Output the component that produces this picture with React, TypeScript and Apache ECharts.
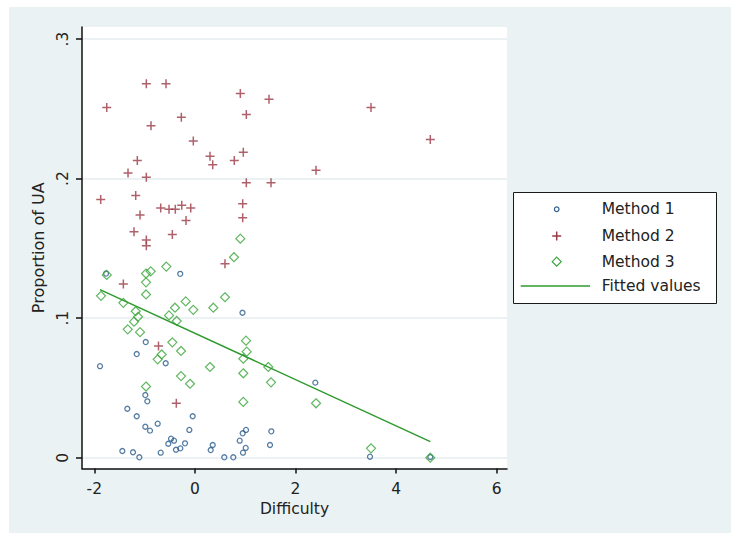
import React, { useEffect, useRef } from "react";
import * as echarts from "echarts";

const FONT = "DejaVu Sans";

// Method 1 (hollow circles)
const m1X = [-1.767, -0.292, 0.946, -0.978, -1.157, -1.887, -0.581, -0.986, -0.946, -1.344, -1.157, -0.044, -0.986, -0.893, -0.74, -0.111, 1.016, 0.95, 1.519, 0.891, -0.475, -0.415, -0.529, -0.197, -0.29, -0.376, 0.354, 0.314, 1.493, 1.01, 0.956, -0.68, -1.443, -1.231, -1.105, 0.584, 0.763, 2.394, 3.481, 4.68];
const m1Y = [0.132, 0.1318, 0.1039, 0.0829, 0.0743, 0.0656, 0.0677, 0.0449, 0.0404, 0.0351, 0.0297, 0.0297, 0.0222, 0.0194, 0.0244, 0.0199, 0.0199, 0.0175, 0.0189, 0.0122, 0.0136, 0.0122, 0.01, 0.0103, 0.0067, 0.0057, 0.0091, 0.0055, 0.0091, 0.007, 0.0036, 0.0036, 0.0048, 0.0039, 0.0003, 0.0003, 0.0003, 0.0538, 0.0007, 0.0005];

// Method 2 (crosses)
const m2X = [-0.966, -0.575, 0.903, 1.473, -1.753, -0.27, 1.022, -0.873, -0.032, 0.3, 0.354, 0.783, 0.962, -1.145, -1.33, -0.966, 1.022, 1.513, -1.873, -1.177, -0.68, -0.515, -0.39, -0.262, -0.083, 0.95, 0.95, -1.091, -0.177, -1.211, -0.449, -0.966, -0.966, 3.501, 4.68, 2.408, 0.598, -1.423, -0.724, -0.37];
const m2Y = [0.268, 0.268, 0.261, 0.257, 0.251, 0.244, 0.246, 0.238, 0.227, 0.216, 0.21, 0.213, 0.219, 0.213, 0.204, 0.201, 0.197, 0.197, 0.185, 0.188, 0.179, 0.178, 0.178, 0.181, 0.179, 0.182, 0.172, 0.174, 0.17, 0.162, 0.16, 0.156, 0.152, 0.251, 0.228, 0.206, 0.139, 0.1245, 0.08, 0.039];

// Method 3 (hollow diamonds)
const m3X = [0.903, 0.777, -0.569, -1.753, -0.972, -0.879, -0.972, -0.972, -1.867, -1.423, -1.177, -1.131, -1.211, -1.336, -1.091, -0.183, -0.396, -0.032, -0.515, -0.362, 0.366, 0.598, -0.449, -0.276, -0.66, -0.74, 0.3, -0.276, -0.097, -0.972, 1.016, 1.03, 0.962, 0.962, 0.962, 1.459, 1.513, 2.408, 3.501, 4.68];
const m3Y = [0.157, 0.1437, 0.137, 0.131, 0.132, 0.1336, 0.1257, 0.117, 0.116, 0.111, 0.105, 0.101, 0.0975, 0.092, 0.09, 0.112, 0.1075, 0.106, 0.102, 0.098, 0.1075, 0.115, 0.0827, 0.0765, 0.074, 0.0705, 0.065, 0.0585, 0.053, 0.051, 0.0839, 0.076, 0.071, 0.0605, 0.04, 0.065, 0.054, 0.039, 0.0067, 0];

// Fitted values (line)
const fitX = [-1.887, 4.68];
const fitY = [0.1205, 0.0115];

const xTicks = [-2, 0, 2, 4, 6];
const yTicks = [0, 0.1, 0.2, 0.3];
const names = ["Method 1", "Method 2", "Method 3", "Fitted values"];

const C1 = "#2b5b8c";
const C2 = "#9a3a45";
const C3 = "#3aa53a";
const CL = "#2e9a2e";
const CROSS = "path://M0,5L10,5M5,0L5,10";

const zip = (xs: number[], ys: number[]) => xs.map((x, i) => [x, ys[i]]);

export default function App() {
  const ref = useRef<HTMLDivElement>(null);
  useEffect(() => {
    const chart = echarts.init(ref.current!, null, { renderer: "svg" });

    // legend layout (drawn as graphics)
    const boxX = 513.5, boxY = 192.5, boxW = 203, boxH = 111;
    const iconX = 556.7, textX = 601.7;
    const rowY = [209.3, 236, 261.7, 286];
    const txt = (i: number) => ({
      type: "text", z: 5, silent: true, x: textX, y: rowY[i],
      style: { text: names[i], fill: "#222", fontSize: 15.5, fontFamily: FONT, align: "left", verticalAlign: "middle" },
    });

    chart.setOption({
      animation: false,
      backgroundColor: "#fff",
      textStyle: { fontFamily: FONT },
      graphic: [
        { type: "rect", z: -10, silent: true, shape: { x: 9, y: 7, width: 722, height: 526 }, style: { fill: "#eaf2f3" } },
        { type: "rect", z: 3, silent: true, shape: { x: boxX, y: boxY, width: boxW, height: boxH }, style: { fill: "#fff", stroke: "#1a1a1a", lineWidth: 1 } },
        { type: "circle", z: 5, silent: true, shape: { cx: iconX, cy: rowY[0], r: 2.3 }, style: { fill: "none", stroke: C1, lineWidth: 1.2 } },
        { type: "line", z: 5, silent: true, shape: { x1: iconX - 4.5, y1: rowY[1], x2: iconX + 4.5, y2: rowY[1] }, style: { stroke: C2, lineWidth: 1.5 } },
        { type: "line", z: 5, silent: true, shape: { x1: iconX, y1: rowY[1] - 4.5, x2: iconX, y2: rowY[1] + 4.5 }, style: { stroke: C2, lineWidth: 1.5 } },
        {
          type: "polygon", z: 5, silent: true,
          shape: { points: [[iconX, rowY[2] - 4.5], [iconX + 4.5, rowY[2]], [iconX, rowY[2] + 4.5], [iconX - 4.5, rowY[2]]] },
          style: { fill: "none", stroke: C3, lineWidth: 1.2 },
        },
        { type: "line", z: 5, silent: true, shape: { x1: 520.7, y1: rowY[3], x2: 590, y2: rowY[3] }, style: { stroke: CL, lineWidth: 1.5 } },
        txt(0), txt(1), txt(2), txt(3),
      ],
      grid: { left: 82, top: 27, right: 224, bottom: 64.5, show: true, backgroundColor: "#fff", borderWidth: 0 },
      xAxis: {
        type: "value",
        min: -2.245,
        max: 6.205,
        name: "Difficulty",
        nameLocation: "middle",
        nameGap: 29,
        nameTextStyle: { fontSize: 15.5, color: "#222", fontFamily: FONT },
        axisLine: { show: true, onZero: false, lineStyle: { color: "#111", width: 1.5 } },
        axisTick: { show: true, length: 5, customValues: xTicks, lineStyle: { color: "#111", width: 1.5 } },
        axisLabel: { customValues: xTicks, margin: 12, fontSize: 15.5, color: "#222", fontFamily: FONT, formatter: (v: number) => String(v) },
        splitLine: { show: false },
      },
      yAxis: {
        type: "value",
        min: -0.00774,
        max: 0.3087,
        name: "Proportion of UA",
        nameLocation: "middle",
        nameRotate: 90,
        nameGap: 36,
        nameTextStyle: { fontSize: 16, color: "#222", fontFamily: FONT },
        axisLine: { show: true, onZero: false, lineStyle: { color: "#111", width: 1.5 } },
        axisTick: { show: true, length: 6, customValues: yTicks, lineStyle: { color: "#111", width: 1.5 } },
        axisLabel: {
          customValues: yTicks,
          rotate: 90,
          margin: 11,
          fontSize: 15.5,
          color: "#222",
          fontFamily: FONT,
          formatter: (v: number) => (v === 0 ? "0" : v.toFixed(1).replace(/^0/, "")),
        },
        splitLine: { show: true, lineStyle: { color: "#e6eef0", width: 1.5 } },
      },
      series: [
        {
          name: names[0],
          type: "scatter",
          data: zip(m1X, m1Y),
          symbol: "circle",
          symbolSize: 5,
          itemStyle: { color: "rgba(255,255,255,0)", borderColor: C1, borderWidth: 1.3 },
          emphasis: { disabled: true },
        },
        {
          name: names[1],
          type: "scatter",
          data: zip(m2X, m2Y),
          symbol: CROSS,
          symbolSize: 9,
          itemStyle: { color: "rgba(255,255,255,0)", borderColor: C2, borderWidth: 1.5 },
          emphasis: { disabled: true },
        },
        {
          name: names[2],
          type: "scatter",
          data: zip(m3X, m3Y),
          symbol: "diamond",
          symbolSize: 9,
          itemStyle: { color: "rgba(255,255,255,0)", borderColor: C3, borderWidth: 1.2 },
          emphasis: { disabled: true },
        },
        {
          name: names[3],
          type: "line",
          data: zip(fitX, fitY),
          symbol: "none",
          lineStyle: { color: CL, width: 1.5 },
          itemStyle: { color: CL },
          emphasis: { disabled: true },
        },
      ],
    });
    return () => chart.dispose();
  }, []);
  return <div ref={ref} style={{ position: "absolute", left: 0, top: 0, width: 731, height: 533 }} />;
}
